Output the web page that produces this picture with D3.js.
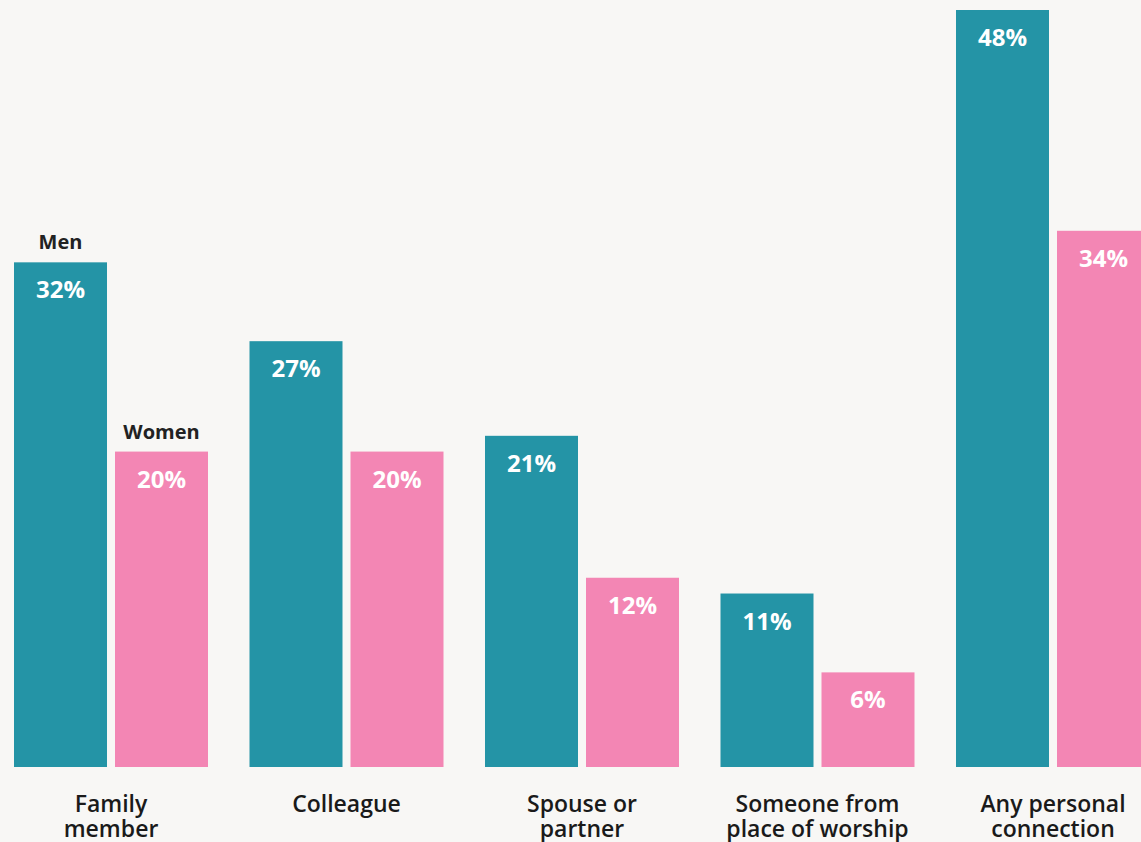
<!DOCTYPE html>
<html>
<head>
<meta charset="utf-8">
<script src="https://cdn.jsdelivr.net/npm/d3@7"></script>
<style>
  html, body { margin: 0; padding: 0; background: #f8f7f5; overflow: hidden; }
  svg { display: block; font-family: "Open Sans", sans-serif; }
</style>
</head>
<body>
<svg id="chart" width="1141" height="842"></svg>
<script>
const categories = [["Family", "member"], ["Colleague"], ["Spouse or", "partner"], ["Someone from", "place of worship"], ["Any personal", "connection"]];
const seriesNames = ["Men", "Women"];
const menValues = [32, 27, 21, 11, 48];
const womenValues = [20, 20, 12, 6, 34];
const colors = { Men: "#2494a6", Women: "#f386b4" };

const W = 1141, H = 842;
const baseline = 767, topY = 10;
const svg = d3.select("#chart");
svg.append("rect").attr("width", W).attr("height", H).attr("fill", "#f8f7f5");

const catKeys = categories.map(c => c.join(" "));
const x0 = d3.scaleBand().domain(catKeys).range([14, 1150]).paddingInner(0.1762).paddingOuter(0);
const x1 = d3.scaleBand().domain(seriesNames).range([0, x0.bandwidth()]).paddingInner(0.0792).paddingOuter(0);
const y = d3.scaleLinear().domain([0, 48]).range([baseline, topY]);

const data = catKeys.map((k, i) => ({ key: k, lines: categories[i], values: [
  { s: "Men", v: menValues[i] }, { s: "Women", v: womenValues[i] }
]}));

const g = svg.append("g").selectAll("g").data(data).join("g")
  .attr("transform", d => `translate(${x0(d.key)},0)`);

g.selectAll("rect").data(d => d.values).join("rect")
  .attr("x", d => x1(d.s))
  .attr("y", d => y(d.v))
  .attr("width", x1.bandwidth())
  .attr("height", d => baseline - y(d.v))
  .attr("fill", d => colors[d.s]);

g.selectAll("text.val").data(d => d.values).join("text")
  .attr("class", "val")
  .attr("x", d => x1(d.s) + x1.bandwidth() / 2)
  .attr("y", d => y(d.v) + 36)
  .attr("text-anchor", "middle")
  .attr("fill", "#ffffff")
  .attr("font-weight", 700)
  .attr("font-size", "24px")
  .text(d => d.v + "%");

// series labels above first group
const first = data[0];
svg.append("g").attr("transform", `translate(${x0(first.key)},0)`)
  .selectAll("text").data(first.values).join("text")
  .attr("x", d => x1(d.s) + x1.bandwidth() / 2)
  .attr("y", d => y(d.v) - 13)
  .attr("text-anchor", "middle")
  .attr("fill", "#222222")
  .attr("font-weight", 700)
  .attr("font-size", "20px")
  .text(d => d.s);

// category labels
const cl = svg.append("g").selectAll("text").data(data).join("text")
  .attr("x", d => x0(d.key) + x0.bandwidth() / 2)
  .attr("y", 812)
  .attr("text-anchor", "middle")
  .attr("fill", "#1a1a1a")
  .attr("font-weight", 600)
  .attr("font-size", "23px");
cl.selectAll("tspan").data(d => d.lines).join("tspan")
  .attr("x", function() { return d3.select(this.parentNode).attr("x"); })
  .attr("dy", (d, i) => i === 0 ? 0 : 25)
  .text(d => d);
</script>
</body>
</html>
